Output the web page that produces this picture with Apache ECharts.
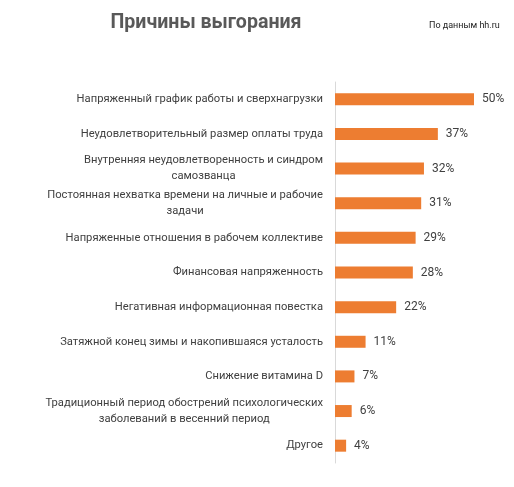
<!DOCTYPE html>
<html>
<head>
<meta charset="utf-8">
<script src="https://cdn.jsdelivr.net/npm/echarts@6/dist/echarts.min.js"></script>
<style>
  html, body { margin: 0; padding: 0; background: #fff; }
  #container { width: 514px; height: 487px; }
</style>
</head>
<body>
<div id="container"></div>
<script>
// причины выгорания, сверху вниз
var categories = [
    'Напряженный график работы и сверхнагрузки',
    'Неудовлетворительный размер оплаты труда',
    'Внутренняя неудовлетворенность и синдром\nсамозванца',
    'Постоянная нехватка времени на личные и рабочие\nзадачи',
    'Напряженные отношения в рабочем коллективе',
    'Финансовая напряженность',
    'Негативная информационная повестка',
    'Затяжной конец зимы и накопившаяся усталость',
    'Снижение витамина D',
    'Традиционный период обострений психологических\nзаболеваний в весенний период',
    'Другое'
];
var values = [50, 37, 32, 31, 29, 28, 22, 11, 7, 6, 4];

var dom = document.getElementById('container');
var myChart = echarts.init(dom);
var option = {
    animation: false,
    title: [
        {
            text: 'Причины выгорания',
            left: 201,
            top: 8,
            textAlign: 'center',
            textStyle: { fontFamily: 'Roboto', fontSize: 19.6, fontWeight: 'bold', color: '#595959' }
        },
        {
            text: 'По данным hh.ru',
            left: 424,
            top: 16,
            textStyle: { fontFamily: 'Roboto', fontSize: 9, fontWeight: 'normal', color: '#222' }
        }
    ],
    grid: { left: 335, top: 82, bottom: 24, right: 40 },
    xAxis: {
        type: 'value',
        min: 0,
        max: 50,
        show: false
    },
    yAxis: {
        type: 'category',
        data: categories,
        inverse: true,
        axisLine: { show: true, lineStyle: { color: '#d9d9d9', width: 1 } },
        axisTick: { show: false },
        axisLabel: {
            margin: 12,
            formatter: function (v) {
                // многострочные подписи центрируем построчно
                return v.split('\n').map(function (s) { return '{c|' + s + '}'; }).join('\n');
            },
            rich: {
                c: { align: 'center', fontFamily: 'Roboto', fontSize: 11.2, color: '#404040', lineHeight: 16 }
            }
        }
    },
    series: [
        {
            type: 'bar',
            data: values,
            barWidth: 12,
            itemStyle: { color: '#ED7D31' },
            label: {
                show: true,
                position: 'right',
                distance: 8,
                formatter: '{c}%',
                fontFamily: 'Roboto',
                fontSize: 12,
                color: '#404040'
            }
        }
    ]
};
myChart.setOption(option);
</script>
</body>
</html>
